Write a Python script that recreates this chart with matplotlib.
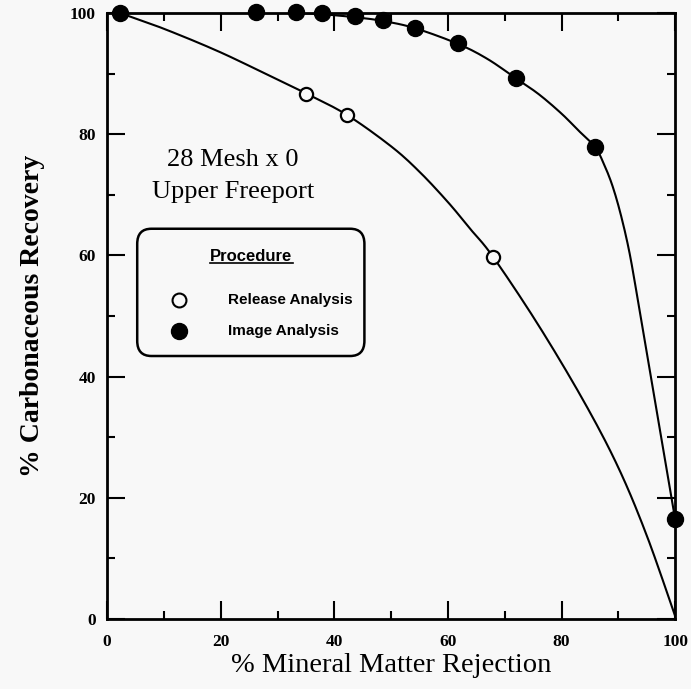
import numpy as np
import matplotlib
matplotlib.use("Agg")
import matplotlib.pyplot as plt
from matplotlib.patches import FancyBboxPatch
from matplotlib.lines import Line2D

# measured points
release_x = [2.3, 35.1, 42.2, 68.0]
release_y = [100.0, 86.7, 83.2, 59.7]
image_x = [2.3, 26.2, 33.3, 37.9, 43.7, 48.5, 54.2, 61.8, 72.0, 85.9, 100.0]
image_y = [100.0, 100.1, 100.1, 100.0, 99.5, 98.9, 97.6, 95.0, 89.2, 77.9, 16.5]

# fitted curves as drawn on the chart
release_curve_x = [2.3, 10, 20, 30, 35.1, 42.2, 50, 55, 60, 64, 68.0, 76, 84, 90, 95, 100]
release_curve_y = [100, 97.4, 93.5, 89.0, 86.7, 83.2, 78.0, 73.8, 68.8, 64.3, 59.7, 48.4, 35.8, 25.0, 13.8, 0.5]
image_curve_x = [2.3, 15, 26.2, 33.3, 37.9, 43.7, 48.5, 54.2, 61.8, 67, 72.0, 76, 80, 83, 85.9,
                 87.5, 89, 90.5, 92, 93.5, 95, 96.6, 98.2, 100]
image_curve_y = [100, 100.1, 100.1, 100.0, 99.8, 99.3, 98.7, 97.5, 94.9, 92.4, 89.2, 86.6, 83.4, 80.6, 77.9,
                 75.0, 71.4, 66.5, 60.3, 52.3, 44.0, 35.2, 26.4, 16.5]

xticks = [0, 20, 40, 60, 80, 100]
yticks = [0, 20, 40, 60, 80, 100]

bg = "#f8f8f8"
serif = "Liberation Serif"
sans = "Liberation Sans"


def smooth(xs, ys, n=12):
    # catmull-rom, only to draw the curve without kinks
    p = np.column_stack([xs, ys]).astype(float)
    p = np.vstack([p[0], p, p[-1]])
    out = []
    t = np.linspace(0, 1, n, endpoint=False)[:, None]
    for i in range(1, len(p) - 2):
        p0, p1, p2, p3 = p[i - 1], p[i], p[i + 1], p[i + 2]
        seg = 0.5 * ((2 * p1) + (-p0 + p2) * t + (2 * p0 - 5 * p1 + 4 * p2 - p3) * t ** 2
                     + (-p0 + 3 * p1 - 3 * p2 + p3) * t ** 3)
        out.append(seg)
    out.append(p[-2][None, :])
    out = np.vstack(out)
    return out[:, 0], out[:, 1]


fig = plt.figure(figsize=(6.91, 6.89), dpi=100, facecolor=bg)
ax = fig.add_axes([0.155, 0.1016, 0.822, 0.8795], facecolor=bg)

ax.plot(*smooth(release_curve_x, release_curve_y), color="black", lw=1.5, zorder=2)
ax.plot(*smooth(image_curve_x, image_curve_y), color="black", lw=1.5, zorder=2)
ax.plot(release_x, release_y, "o", ms=9.5, mfc=bg, mec="black", mew=1.6, clip_on=False, zorder=3)
ax.plot(image_x, image_y, "o", ms=11.5, mfc="black", mec="black", clip_on=False, zorder=4)

ax.set_xlim(0, 100)
ax.set_ylim(0, 100)
ax.set_xticks(xticks)
ax.set_yticks(yticks)
ax.set_xticks(range(10, 100, 20), minor=True)
ax.set_yticks(range(10, 100, 20), minor=True)
ax.tick_params(which="both", direction="in", top=True, right=True, width=1.5)
ax.tick_params(which="major", length=13)
ax.tick_params(which="minor", length=6)
ax.tick_params(axis="x", which="major", pad=11)
ax.tick_params(axis="y", which="major", pad=8)
for lbl in ax.get_xticklabels() + ax.get_yticklabels():
    lbl.set_fontfamily(serif)
    lbl.set_fontweight("bold")
    lbl.set_fontsize(12.5)
for s in ax.spines.values():
    s.set_linewidth(2)

ax.set_xlabel("% Mineral Matter Rejection", fontfamily=serif, fontsize=20.5, labelpad=2)
ax.set_ylabel("% Carbonaceous Recovery", fontfamily=serif, fontsize=20, fontweight="bold", labelpad=18)

ax.text(22.2, 75.8, "28 Mesh x 0", ha="center", va="center", fontfamily=serif, fontsize=19)
ax.text(22.2, 70.5, "Upper Freeport", ha="center", va="center", fontfamily=serif, fontsize=19)

# legend box
box = FancyBboxPatch((5.3, 43.4), 40.0, 21.0, boxstyle="round,pad=0,rounding_size=2.5",
                     fc=bg, ec="black", lw=1.8, zorder=5)
ax.add_patch(box)
title = ax.text(25.4, 59.8, "Procedure", ha="center", va="center", fontfamily=sans,
                fontsize=12, fontweight="bold", zorder=6)
ax.plot([12.7], [52.7], "o", ms=10, mfc=bg, mec="black", mew=1.5, zorder=6)
ax.plot([12.7], [47.6], "o", ms=11.5, mfc="black", mec="black", zorder=6)
ax.text(21.3, 52.7, "Release Analysis", ha="left", va="center", fontfamily=sans,
        fontsize=11, fontweight="bold", zorder=6)
ax.text(21.3, 47.6, "Image Analysis", ha="left", va="center", fontfamily=sans,
        fontsize=11, fontweight="bold", zorder=6)

# underline the legend title
renderer = fig.canvas.get_renderer()
bb = title.get_window_extent(renderer).transformed(fig.transFigure.inverted())
fig.add_artist(Line2D([bb.x0, bb.x1], [bb.y0 + 0.002, bb.y0 + 0.002], color="black", lw=1.2,
                      transform=fig.transFigure, zorder=7))

fig.savefig("out.png", dpi=100, facecolor=bg)
